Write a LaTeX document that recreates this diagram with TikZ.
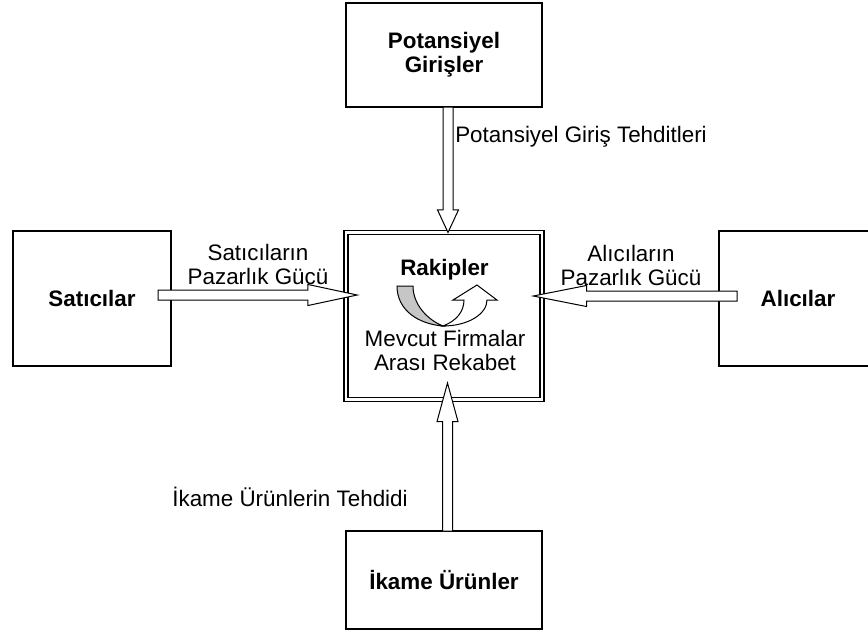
\documentclass[tikz,border=0pt]{standalone}
\usepackage{fontspec}
\setmainfont{Liberation Sans}
\usetikzlibrary{calc}

\tikzset{
  yazi/.style={font=\fontsize{16.8}{18}\selectfont, align=center, inner sep=0pt},
  kutu/.style={draw, line width=1.2pt, outer sep=0pt, align=center,
               font=\fontsize{16.8}{18}\selectfont\bfseries},
  blok/.style={draw, fill=white, line width=0.75pt, line join=miter}
}

% block arrow from #1 to #2, head length #3
\newcommand{\blokok}[3]{%
  \draw[blok] let \p1=(#1), \p2=(#2),
      \n1={atan2(\y2-\y1,\x2-\x1)},
      \n2={veclen(\x2-\x1,\y2-\y1)}
    in [shift={(\p1)}, rotate=\n1]
    (0pt,-3.75pt) -- ({\n2-#3},-3.75pt) -- ({\n2-#3},-7.9pt)
    -- ({\n2*1pt},0pt) -- ({\n2-#3},7.9pt) -- ({\n2-#3},3.75pt)
    -- (0pt,3.75pt) -- cycle;}

\begin{document}
\begin{tikzpicture}[x=0.75pt, y=-0.75pt]
  \clip (0,0) rectangle (868,637);

  % boxes
  \node[kutu, minimum width=147pt, minimum height=78pt] (pot) at (444,55) {Potansiyel\\Girişler};
  \node[kutu, minimum width=118.5pt, minimum height=101.25pt] (sat) at (92,298.5) {Satıcılar};
  \node[kutu, minimum width=118.5pt, minimum height=101.25pt] (alc) at (798,298.5) {Alıcılar};
  \node[kutu, minimum width=147pt, minimum height=73.5pt] (ika) at (444,580) {İkame Ürünler};
  \node[draw, line width=1.2pt, double, double distance=1.8pt, outer sep=0pt,
        minimum width=147.4pt, minimum height=125.25pt] (rak) at (444,316) {};

  % arrows
  \blokok{$(pot.south)+(4,0)$}{$(rak.north)+(4,0)$}{17pt}
  \blokok{$(ika.north)+(3.5,0)$}{$(rak.south)+(3.5,-16.5)$}{29pt}
  \blokok{$(sat.east)+(-13,-3.5)$}{$(rak.west)+(11.5,-21)$}{37pt}
  \blokok{$(alc.west)+(18,-2.5)$}{$(rak.east)+(-9,-20)$}{40pt}

  % labels
  \node[yazi, anchor=west] (potok) at (455,137) {Potansiyel Giriş Tehditleri};
  \node[yazi] (satok) at (258,264) {Satıcıların\\Pazarlık Gücü};
  \node[yazi] (alcok) at (631,265) {Alıcıların\\Pazarlık Gücü};
  \node[yazi] (ikaok) at (290,497) {İkame Ürünlerin Tehdidi};
  \node[yazi, font=\fontsize{16.8}{18}\selectfont\bfseries] (rakbas) at (444.5,270) {Rakipler};
  \node[yazi] (rakalt) at (445,350) {Mevcut Firmalar\\Arası Rekabet};

  % u-turn icon
  \draw[line width=0.75pt, fill=gray!45] (397,286) -- (413,286)
    .. controls (413,305) and (428,320) .. (443,326)
    .. controls (418,324) and (397,310) .. (397,286) -- cycle;
  \draw[line width=0.75pt, fill=white, line join=miter] (443,326)
    .. controls (468,326) and (487,314) .. (487,300) -- (497,300) -- (477,285)
    -- (453,300) -- (464,300)
    .. controls (464,312) and (456,321) .. (443,326) -- cycle;
\end{tikzpicture}
\end{document}
